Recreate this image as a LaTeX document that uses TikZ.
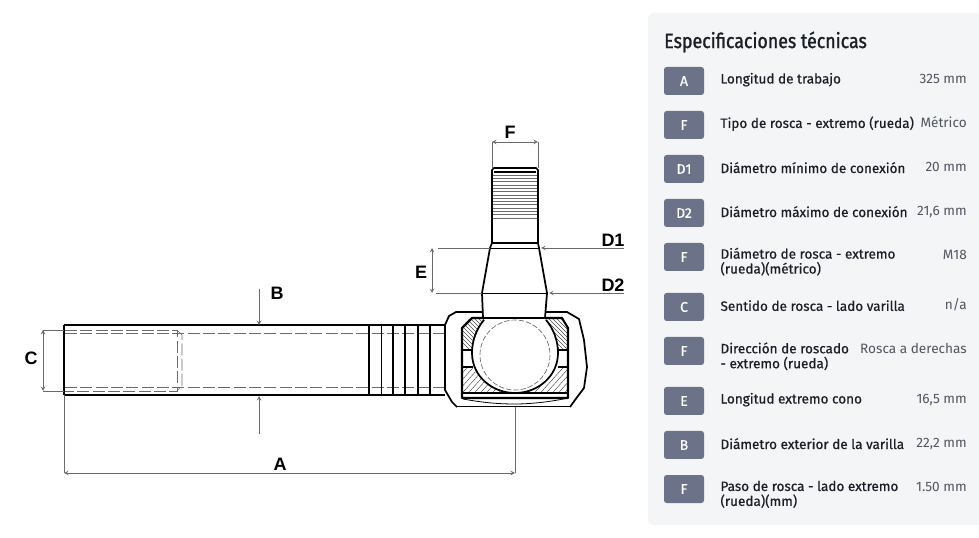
\documentclass[tikz,border=0pt]{standalone}
\usepackage{fontspec}
\setmainfont{Liberation Sans}
\newfontfamily\panelfont{Fira Sans}
\newfontfamily\panelbold[FakeBold=0.6]{Fira Sans}
\newfontfamily\paneltitle[FakeStretch=0.86,FakeBold=1.2]{Fira Sans}
\usepackage{xcolor}
\usetikzlibrary{arrows, positioning}
\definecolor{panelbg}{HTML}{F3F5F7}
\definecolor{badgebg}{HTML}{6C7288}
\definecolor{inkdark}{HTML}{1B1E26}
\definecolor{inkgrey}{HTML}{50555F}
\definecolor{dimgrey}{HTML}{6A6A6A}

\begin{document}
\begin{tikzpicture}[
    x=0.75pt, y=-0.75pt,
    badge/.style={fill=badgebg, rounded corners=2pt, minimum width=30pt, minimum height=21pt, inner sep=0pt, text=white, font=\panelbold\fontsize{10.5}{10.5}\selectfont},
    spec/.style={right=12pt of #1, inner sep=0pt, align=left, text=inkdark, font=\panelbold\fontsize{10.15}{11.2}\selectfont},
    value/.style={anchor=east, inner sep=0pt, yshift=-0.7pt, text height=7.5pt, text depth=2pt, text=inkgrey, font=\panelfont\fontsize{10.2}{11}\selectfont},
    letter/.style={inner sep=0pt, font=\fontsize{13.5}{13.5}\selectfont\bfseries},
    heavy/.style={line width=1.6pt, line join=round},
    medium/.style={line width=1.3pt, line join=round},
    hidden/.style={line width=0.5pt, draw=dimgrey, dash pattern=on 9pt off 2.5pt},
    dim/.style={line width=0.5pt, draw=dimgrey},
    dimarrow/.style={dim, <->, >=stealth},
    hatch/.style={line width=0.35pt, draw=black!70}
]
\useasboundingbox (0,0) rectangle (979,538);

% right hand table
\fill[panelbg, rounded corners=4pt] (648,13) rectangle (985,525);
\node[anchor=west, inner sep=0pt, text=inkdark, font=\paneltitle\fontsize{15.5}{15.5}\selectfont] (title) at (664,42) {Especificaciones técnicas};

\node[badge] (bA) at (684,81) {A};
\node[badge] (bF1) at (684,125) {F};
\node[badge] (bD1) at (684,169) {D1};
\node[badge] (bD2) at (684,213) {D2};
\node[badge] (bF2) at (684,257) {F};
\node[badge] (bC) at (684,307) {C};
\node[badge] (bF3) at (684,351) {F};
\node[badge] (bE) at (684,401) {E};
\node[badge] (bB) at (684,445) {B};
\node[badge] (bF4) at (684,489) {F};

\node[spec=bA, yshift=1pt] (sA) {Longitud de trabajo};
\node[spec=bF1, yshift=1pt] (sF1) {Tipo de rosca - extremo (rueda)};
\node[spec=bD1, yshift=1pt] (sD1) {Diámetro mínimo de conexión};
\node[spec=bD2, yshift=1pt] (sD2) {Diámetro máximo de conexión};
\node[spec=bF2, yshift=-3.5pt] (sF2) {Diámetro de rosca - extremo\\(rueda)(métrico)};
\node[spec=bC, yshift=1pt] (sC) {Sentido de rosca - lado varilla};
\node[spec=bF3, yshift=-4pt] (sF3) {Dirección de roscado\\- extremo (rueda)};
\node[spec=bE, yshift=1pt] (sE) {Longitud extremo cono};
\node[spec=bB, yshift=1pt] (sB) {Diámetro exterior de la varilla};
\node[spec=bF4, yshift=-4pt] (sF4) {Paso de rosca - lado extremo\\(rueda)(mm)};

\node[value] (vA) at (967,79) {325 mm};
\node[value] (vF1) at (967,123) {Métrico};
\node[value] (vD1) at (967,167) {20 mm};
\node[value] (vD2) at (967,211) {21,6 mm};
\node[value] (vF2) at (967,255) {M18};
\node[value] (vC) at (967,305) {n/a};
\node[value] (vF3) at (967,349) {Rosca a derechas};
\node[value] (vE) at (967,399) {16,5 mm};
\node[value] (vB) at (967,443) {22,2 mm};
\node[value] (vF4) at (967,487) {1.50 mm};

% rod
\coordinate (rodTL) at (64,325);
\coordinate (rodBL) at (64,395);
\coordinate (rodTR) at (445,325);
\coordinate (rodBR) at (445,395);
\draw[heavy] (rodTR) -- (rodTL);
\draw[line width=2.2pt] (rodTL) -- (rodBL);
\draw[heavy] (rodBL) -- (rodBR);
\draw[hidden] (65,333) -- (445,333);
\draw[hidden] (65,387) -- (445,387);
\draw[hidden] (65,330) -- (177,330) -- (177,391) -- (65,391);
\draw[hidden] (177,330) -- (182,335) -- (182,386) -- (177,391);
\foreach \gx in {369,381.5,393,405,418,430}
    \draw[medium] (\gx,325) -- (\gx,395);

% head, outer shell
\draw[medium] (445,325) -- (449,316) -- (456,312) -- (483,312);
\draw[medium] (545,312) -- (567,312) -- (579,319) -- (584,340) -- (587,367) -- (584,388) -- (575,400) -- (570,407);
\draw[medium] (445,325) -- (445,390) -- (452,402) -- (457,407);
\draw[medium] (457,406.5) -- (570,406.5);
\draw[line width=0.6pt] (463,399) .. controls (485,403) and (500,404) .. (515,404) .. controls (530,404) and (550,402) .. (568,398);

% hatching of the seat
\begin{scope}
\clip (462,350) -- (462,328) -- (472,318) -- (483,318) -- (484,320) .. controls (477,328) and (472,340) .. (472,350) -- cycle;
\foreach \hx in {430,434,...,520}
    \draw[hatch] (\hx,310) -- (\hx+45,355);
\end{scope}
\begin{scope}
\clip (568,350) -- (568,328) -- (562,318) -- (545,318) -- (546,320) .. controls (553,328) and (558,340) .. (558,350) -- cycle;
\foreach \hx in {500,504,...,580}
    \draw[hatch] (\hx,310) -- (\hx+45,355);
\end{scope}
\begin{scope}
\clip (462,367) -- (473,367) .. controls (480,382) and (495,393) .. (515,393) .. controls (535,393) and (551,382) .. (558,367) -- (568,367) -- (568,393) -- (462,393) -- cycle;
\foreach \hx in {432,438,...,590}
    \draw[hatch] (\hx,400) -- (\hx+36,360);
\end{scope}

% head, inner seat and ball
\draw[heavy] (483,318) -- (472,318) -- (462,328) -- (462,398) -- (568,398) -- (568,328) -- (562,318) -- (545,318);
\draw[medium] (462,393) -- (568,393);
\draw[medium] (462,350) -- (472,350);
\draw[medium] (462,367) -- (473,367);
\draw[medium] (558,350) -- (568,350);
\draw[medium] (558,367) -- (568,367);
\draw[medium] (483,318) -- (545,318);
\draw[medium] (484,320) .. controls (477,328) and (472,340) .. (472,353) .. controls (472,376) and (492,393) .. (515,393) .. controls (538,393) and (558,376) .. (558,353) .. controls (558,340) and (553,328) .. (546,320);
\draw[line width=0.5pt, draw=dimgrey, dash pattern=on 4pt off 1.5pt] (515,355) circle (35);

% stud
\draw[medium] (483,318) -- (482,293) -- (490,248) -- (492,243) -- (492,170) -- (494,168) -- (536,168) -- (538,170) -- (538,243) -- (539,248) -- (547,293) -- (545,318);
\draw[line width=0.8pt] (494,172) -- (536,172);
\draw[medium] (492,243) -- (538,243);
\draw[line width=0.7pt] (490,248) -- (539,248);
\draw[line width=0.7pt] (482,293) -- (547,293);
\foreach \ty in {175,178.3,...,221}
    \draw[line width=0.4pt, draw=dimgrey] (493,\ty) -- (537,\ty);

% dimensions
\coordinate (fL) at (492,142);
\coordinate (fR) at (538,142);
\coordinate (eT) at (432,248);
\coordinate (eB) at (432,293);
\coordinate (cT) at (43,330);
\coordinate (cB) at (43,391);
\coordinate (aL) at (64,473);
\coordinate (aR) at (515,473);
\coordinate (bTop) at (259,289);
\coordinate (bBot) at (259,434);
\coordinate (d1End) at (624,248);
\coordinate (d2End) at (624,293);
\coordinate (d1Tip) at (541,248);
\coordinate (d2Tip) at (549,293);

\draw[dimarrow] (fL) -- (fR);
\draw[dim] (fL) -- (492,168);
\draw[dim] (fR) -- (538,168);
\draw[dimarrow] (eT) -- (eB);
\draw[dim] (438,248) -- (490,248);
\draw[dim] (436,293) -- (482,293);
\draw[dim, ->, >=stealth] (d1End) -- (d1Tip);
\draw[dim, ->, >=stealth] (d2End) -- (d2Tip);
\draw[dimarrow] (cT) -- (cB);
\draw[dim] (cT) -- (64,330);
\draw[dim] (cB) -- (64,391);
\draw[dimarrow] (aL) -- (aR);
\draw[dim] (rodBL) -- (aL);
\draw[dim] (515,407) -- (aR);
\draw[dim, ->, >=stealth] (bTop) -- (259,325);
\draw[dim, ->, >=stealth] (bBot) -- (259,396);

\node[letter] (lF) at (510,132) {F};
\node[letter] (lD1) at (613,240) {D1};
\node[letter] (lD2) at (613,285) {D2};
\node[letter] (lE) at (421,272) {E};
\node[letter] (lB) at (277,293) {B};
\node[letter] (lC) at (31,358) {C};
\node[letter] (lA) at (280,464) {A};

\end{tikzpicture}
\end{document}
